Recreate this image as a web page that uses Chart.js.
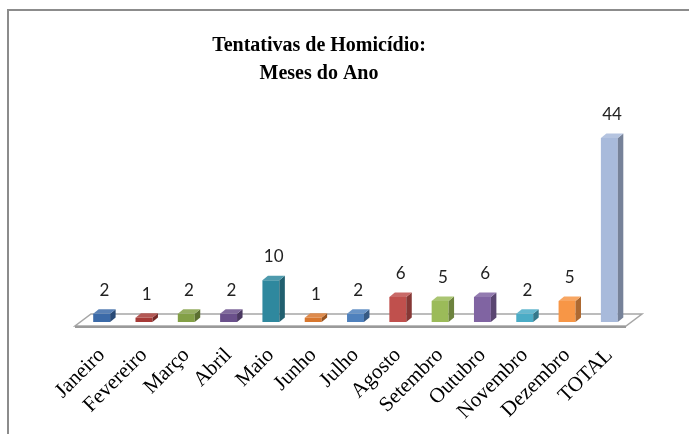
<!DOCTYPE html>
<html>
<head>
<meta charset="utf-8">
<script src="https://cdn.jsdelivr.net/npm/chart.js@4/dist/chart.umd.min.js"></script>
<style>
  html, body { margin: 0; padding: 0; background: #fff; overflow: hidden; }
  #wrap { position: relative; width: 689px; height: 434px; }
  #frame { position: absolute; left: 7px; top: 9px; width: 720px; height: 460px;
           border-top: 2px solid #8c8c8c; border-left: 2px solid #8c8c8c; }
  canvas { position: absolute; left: 0; top: 0; }
</style>
</head>
<body>
<div id="wrap">
  <div id="frame"></div>
  <canvas id="myChart" width="689" height="434"></canvas>
</div>
<script>
// data
const meses = ['Janeiro', 'Fevereiro', 'Março', 'Abril', 'Maio', 'Junho', 'Julho',
               'Agosto', 'Setembro', 'Outubro', 'Novembro', 'Dezembro', 'TOTAL'];
const tentativas = [2, 1, 2, 2, 10, 1, 2, 6, 5, 6, 2, 5, 44];

const barColors = ['#3b6aa8', '#a63a37', '#83a046', '#6a508b', '#2f889e', '#d8772e', '#4f81bd',
                   '#c0504d', '#9bbb59', '#8064a2', '#4bacc6', '#f79646', '#a8badb'];

const SERIF = "'Liberation Serif', 'Times New Roman', serif";

function shade(hex, f) {
    var n = parseInt(hex.slice(1), 16);
    var r = (n >> 16) & 255, g = (n >> 8) & 255, b = n & 255;
    if (f < 0) { r = r * (1 + f); g = g * (1 + f); b = b * (1 + f); }
    else { r = r + (255 - r) * f; g = g + (255 - g) * f; b = b + (255 - b) * f; }
    return 'rgb(' + Math.round(r) + ',' + Math.round(g) + ',' + Math.round(b) + ')';
}

const DX = 5.5, DY = 4.5;

// floor slab under the bars
const floorPlugin = {
    id: 'floor',
    beforeDatasetsDraw(chart) {
        const a = chart.chartArea, ctx = chart.ctx;
        const fy = a.bottom + 4, by = a.bottom - 8;
        ctx.save();
        ctx.beginPath();
        ctx.moveTo(a.left - 5.5, fy);
        ctx.lineTo(a.right - 4.5, fy);
        ctx.lineTo(a.right + 11.5, by);
        ctx.lineTo(a.left + 10.5, by);
        ctx.closePath();
        ctx.fillStyle = '#ffffff';
        ctx.fill();
        ctx.strokeStyle = '#a6a6a6';
        ctx.lineWidth = 1.5;
        ctx.stroke();
        ctx.beginPath();
        ctx.moveTo(a.left - 5.5, fy + 1);
        ctx.lineTo(a.right - 4.5, fy + 1);
        ctx.lineWidth = 2;
        ctx.strokeStyle = '#9a9a9a';
        ctx.stroke();
        ctx.restore();
    }
};

// side and top faces + value labels
const boxPlugin = {
    id: 'box3d',
    afterDatasetsDraw(chart) {
        const ctx = chart.ctx;
        const meta = chart.getDatasetMeta(0);
        ctx.save();
        meta.data.forEach(function (el, i) {
            const l = el.x - el.width / 2, r = el.x + el.width / 2;
            const t = el.y, b = el.base;
            ctx.beginPath();
            ctx.moveTo(r, t);
            ctx.lineTo(r + DX, t - DY);
            ctx.lineTo(r + DX, b - DY);
            ctx.lineTo(r, b);
            ctx.closePath();
            ctx.fillStyle = shade(barColors[i], -0.3);
            ctx.fill();
            ctx.beginPath();
            ctx.moveTo(l, t);
            ctx.lineTo(l + DX, t - DY);
            ctx.lineTo(r + DX, t - DY);
            ctx.lineTo(r, t);
            ctx.closePath();
            ctx.fillStyle = shade(barColors[i], 0.15);
            ctx.fill();

            ctx.fillStyle = '#222';
            ctx.font = '17px Lato';
            ctx.textAlign = 'center';
            ctx.textBaseline = 'alphabetic';
            ctx.fillText(String(tentativas[i]), el.x + DX / 2, t - 18);
        });
        ctx.restore();
    }
};

const ctx = document.getElementById('myChart').getContext('2d');
const myChart = new Chart(ctx, {
    type: 'bar',
    data: {
        labels: meses,
        datasets: [{
            data: tentativas,
            backgroundColor: barColors,
            borderWidth: 0,
            barPercentage: 0.4,
            categoryPercentage: 1
        }]
    },
    options: {
        responsive: false,
        animation: false,
        devicePixelRatio: 1,
        layout: { padding: { top: 0, left: 0, right: 51, bottom: 0 } },
        plugins: {
            legend: { display: false },
            tooltip: { enabled: false },
            title: {
                display: true,
                text: ['Tentativas de Homicídio:', 'Meses do Ano'],
                color: '#000',
                font: { family: SERIF, size: 20, weight: 'bold', lineHeight: 1.4 },
                padding: { top: 32, bottom: 25 }
            }
        },
        scales: {
            x: {
                grid: { display: false },
                border: { display: false },
                ticks: {
                    color: '#000',
                    font: { family: SERIF, size: 21 },
                    minRotation: 45,
                    maxRotation: 45,
                    padding: 13,
                    autoSkip: false
                },
                afterFit(s) { s.height = 112; }
            },
            y: {
                min: 0,
                max: 50,
                grid: { display: false },
                border: { display: false },
                ticks: { display: false },
                afterFit(s) { s.width = 80.5; }
            },
            y2: {
                position: 'right',
                grid: { display: false },
                border: { display: false },
                ticks: { display: false },
                afterFit(s) { s.width = 7.5; }
            }
        }
    },
    plugins: [floorPlugin, boxPlugin]
});
</script>
</body>
</html>
